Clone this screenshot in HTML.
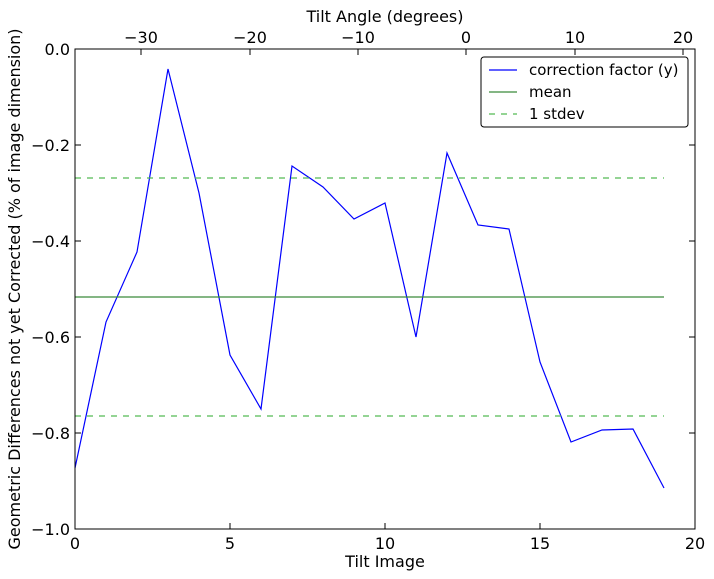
<!DOCTYPE html>
<html><head><meta charset="utf-8"><style>
body{margin:0;background:#fff}
svg{display:block;font-family:"DejaVu Sans","Liberation Sans",sans-serif}
</style></head><body>
<svg width="714" height="579" viewBox="0 0 714 579" xmlns="http://www.w3.org/2000/svg">
<rect width="714" height="579" fill="#fff"/>
<polyline fill="none" stroke="#0000ff" stroke-width="1.2" points="75,468 106,322 137,252 168,69 199,193 230,355 261,409 292,166 323,187 354,219 385,203 416,337 447,153 478,225 509,229 540,362 571,442 602,430 633,429 664,488"/>
<line x1="75" y1="297" x2="664" y2="297" stroke="#3a8a3a" stroke-width="1.2"/>
<line x1="75" y1="178" x2="664" y2="178" stroke="#55bb55" stroke-width="1.2" stroke-dasharray="6,6"/>
<line x1="75" y1="416" x2="664" y2="416" stroke="#55bb55" stroke-width="1.2" stroke-dasharray="6,6"/>
<rect x="75" y="49" width="620" height="480" fill="none" stroke="#000" stroke-width="1"/>
<g stroke="#000" stroke-width="1">
<line x1="75" y1="529" x2="75" y2="523"/><line x1="230" y1="529" x2="230" y2="523"/><line x1="385" y1="529" x2="385" y2="523"/><line x1="540" y1="529" x2="540" y2="523"/><line x1="695" y1="529" x2="695" y2="523"/>
<line x1="75" y1="145" x2="81" y2="145"/><line x1="75" y1="241" x2="81" y2="241"/><line x1="75" y1="337" x2="81" y2="337"/><line x1="75" y1="433" x2="81" y2="433"/>
<line x1="695" y1="145" x2="689" y2="145"/><line x1="695" y1="241" x2="689" y2="241"/><line x1="695" y1="337" x2="689" y2="337"/><line x1="695" y1="433" x2="689" y2="433"/>
<line x1="141" y1="49" x2="141" y2="55"/><line x1="250" y1="49" x2="250" y2="55"/><line x1="358" y1="49" x2="358" y2="55"/><line x1="466" y1="49" x2="466" y2="55"/><line x1="575" y1="49" x2="575" y2="55"/><line x1="683" y1="49" x2="683" y2="55"/>
</g>
<g font-size="16" fill="#000">
<g text-anchor="middle">
<text x="75" y="549">0</text><text x="230" y="549">5</text><text x="385" y="549">10</text><text x="540" y="549">15</text><text x="695" y="549">20</text>
<text x="141" y="43">−30</text><text x="250" y="43">−20</text><text x="358" y="43">−10</text><text x="466" y="43">0</text><text x="575" y="43">10</text><text x="683" y="43">20</text>
<text x="385" y="567">Tilt Image</text>
<text x="385" y="22">Tilt Angle (degrees)</text>
</g>
<g text-anchor="end">
<text x="70" y="55">0.0</text><text x="70" y="151">−0.2</text><text x="70" y="247">−0.4</text><text x="70" y="343">−0.6</text><text x="70" y="439">−0.8</text><text x="70" y="535">−1.0</text>
</g>
<text transform="translate(20,289) rotate(-90)" text-anchor="middle">Geometric Differences not yet Corrected (% of image dimension)</text>
</g>
<rect x="481" y="57" width="207" height="70" rx="3" fill="#fff" stroke="#000" stroke-width="1"/>
<line x1="489" y1="70" x2="517" y2="70" stroke="#0000ff" stroke-width="1.2"/>
<line x1="489" y1="92" x2="517" y2="92" stroke="#3a8a3a" stroke-width="1.2"/>
<line x1="489" y1="114" x2="517" y2="114" stroke="#55bb55" stroke-width="1.2" stroke-dasharray="6,6"/>
<g font-size="15" fill="#000">
<text x="529" y="75">correction factor (y)</text>
<text x="529" y="97">mean</text>
<text x="529" y="119">1 stdev</text>
</g>
</svg>
</body></html>
